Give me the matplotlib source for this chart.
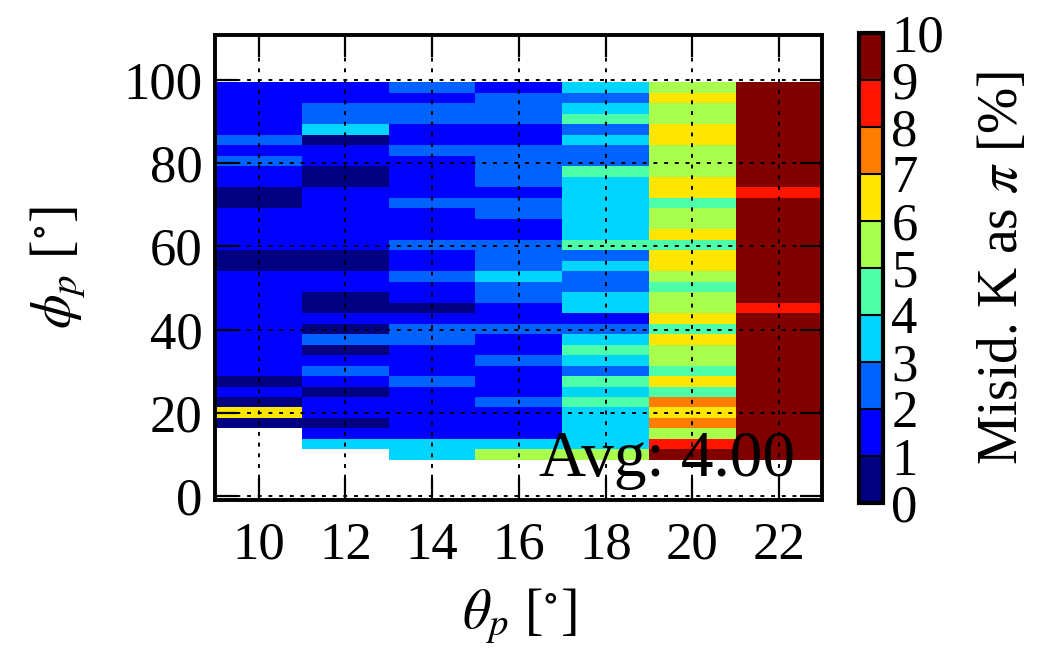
import numpy as np
import matplotlib
matplotlib.use("Agg")
import matplotlib.pyplot as plt
from matplotlib.colors import BoundaryNorm

plt.rcParams['font.family'] = 'Liberation Serif'
plt.rcParams['mathtext.fontset'] = 'stix'

# theta_p bins (deg) and phi_p bins (deg)
theta_edges = [9, 11, 13, 15, 17, 19, 21, 23]
phi_lo, phi_hi, n_phi = 8.6, 99.5, 36

# K -> pi misidentification (%) per phi bin, from the top bin downwards
# (None = no entries in that bin)
mis_t10 = [1.5, 1.5, 1.5, 1.5, 1.5, 2.5, 1.5, 2.5, 1.5, 1.5, 0.5, 0.5,
           1.5, 1.5, 1.5, 1.5, 0.5, 0.5, 1.5, 1.5, 1.5, 1.5, 1.5, 1.5,
           1.5, 1.5, 1.5, 1.5, 0.5, 1.5, 0.5, 6.5, 0.5, None, None, None]
mis_t12 = [1.5, 1.5, 2.5, 2.5, 3.5, 0.5, 1.5, 1.5, 0.5, 0.5, 1.5, 1.5,
           1.5, 1.5, 1.5, 1.5, 0.5, 0.5, 1.5, 1.5, 0.5, 0.5, 1.5, 0.5,
           2.5, 0.5, 1.5, 2.5, 1.5, 0.5, 1.5, 1.5, 0.5, 1.5, 3.5, None]
mis_t14 = [2.5, 1.5, 2.5, 2.5, 1.5, 1.5, 2.5, 1.5, 1.5, 1.5, 1.5, 2.5,
           1.5, 1.5, 1.5, 2.5, 1.5, 1.5, 2.5, 1.5, 1.5, 0.5, 1.5, 2.5,
           2.5, 1.5, 1.5, 1.5, 2.5, 1.5, 1.5, 1.5, 1.5, 1.5, 3.5, 3.5]
mis_t16 = [1.5, 2.5, 2.5, 2.5, 1.5, 1.5, 2.5, 2.5, 2.5, 2.5, 1.5, 2.5,
           2.5, 1.5, 1.5, 2.5, 2.5, 2.5, 3.5, 2.5, 2.5, 1.5, 1.5, 2.5,
           1.5, 1.5, 2.5, 1.5, 1.5, 1.5, 2.5, 1.5, 1.5, 1.5, 3.5, 5.5]
mis_t18 = [3.5, 2.5, 3.5, 4.5, 2.5, 3.5, 2.5, 2.5, 4.5, 3.5, 3.5, 3.5,
           3.5, 3.5, 3.5, 4.5, 2.5, 3.5, 2.5, 2.5, 3.5, 3.5, 1.5, 2.5,
           3.5, 4.5, 3.5, 2.5, 4.5, 3.5, 4.5, 3.5, 3.5, 3.5, 3.5, 5.5]
mis_t20 = [5.5, 6.5, 5.5, 5.5, 6.5, 6.5, 5.5, 5.5, 5.5, 6.5, 6.5, 4.5,
           5.5, 5.5, 6.5, 4.5, 6.5, 6.5, 5.5, 4.5, 5.5, 5.5, 6.5, 4.5,
           6.5, 5.5, 5.5, 4.5, 6.5, 4.5, 7.5, 6.5, 7.5, 5.5, 8.5, 9.5]
mis_t22 = [9.5, 9.5, 9.5, 9.5, 9.5, 9.5, 9.5, 9.5, 9.5, 9.5, 8.5, 9.5,
           9.5, 9.5, 9.5, 9.5, 9.5, 9.5, 9.5, 9.5, 9.5, 8.5, 9.5, 9.5,
           9.5, 9.5, 9.5, 9.5, 9.5, 9.5, 9.5, 9.5, 9.5, 9.5, 9.5, 9.5]
avg_misid = 4.00

columns = [mis_t10, mis_t12, mis_t14, mis_t16, mis_t18, mis_t20, mis_t22]
Z = np.array([[np.nan if v is None else v for v in col] for col in columns]).T
Z = np.ma.masked_invalid(Z[::-1])  # bottom bin first
phi_edges = np.linspace(phi_lo, phi_hi, n_phi + 1)

cmap = plt.get_cmap('jet', 10)
norm = BoundaryNorm(np.arange(0, 11), cmap.N)

fig = plt.figure(figsize=(10.45, 6.55), dpi=100)
ax = fig.add_axes([0.206, 0.237, 0.581, 0.710])
cax = fig.add_axes([0.822, 0.232, 0.023, 0.718])

mesh = ax.pcolormesh(theta_edges, phi_edges, Z, cmap=cmap, norm=norm)

ax.set_xlim(9, 23)
ax.set_ylim(-1, 111)
ax.set_xticks([10, 12, 14, 16, 18, 20, 22])
ax.set_yticks([0, 20, 40, 60, 80, 100])
ax.grid(True, color='k', linestyle=(0, (2, 3.5)), linewidth=1.4)
ax.tick_params(direction='in', length=16, width=1.6, top=True, right=True,
               labelsize=38, pad=9)
ax.tick_params(axis='x', pad=16)
for sp in ax.spines.values():
    sp.set_linewidth(2.8)

ax.set_xlabel(r'$\theta_p$ [$^{\circ}$]', fontsize=40, labelpad=12)
ax.set_ylabel(r'$\phi_p$ [$^{\circ}$]', fontsize=40, labelpad=26)

ax.text(0.955, 0.085, 'Avg: %.2f' % avg_misid, transform=ax.transAxes,
        ha='right', va='center', fontsize=47, zorder=5)

cb = fig.colorbar(mesh, cax=cax, ticks=range(0, 11), drawedges=True)
cb.outline.set_linewidth(3)
cb.dividers.set_linewidth(1.5)
cb.ax.tick_params(length=0, labelsize=38, pad=6)
cb.set_label(r'Misid. K as $\pi$ [%]', fontsize=40, labelpad=24)

fig.savefig('out.png', dpi=100)
